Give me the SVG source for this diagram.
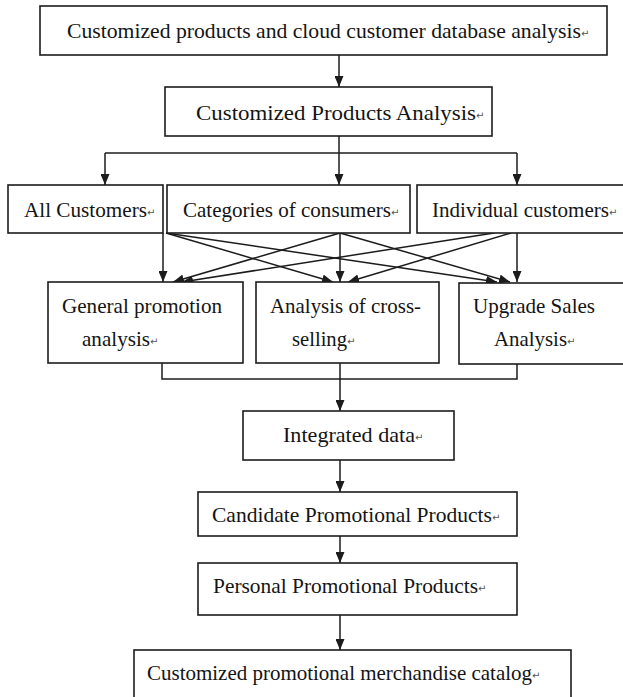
<svg xmlns="http://www.w3.org/2000/svg" width="623" height="697" viewBox="0 0 623 697">
<style>
.box{fill:#fff;stroke:#1c1c1c;stroke-width:1.6}
.t{font-family:"Liberation Serif","Times New Roman",serif;font-size:21px;fill:#141414}
.p{font-family:"DejaVu Sans",sans-serif;font-size:10px;fill:#555}
.c{fill:none;stroke:#1c1c1c;stroke-width:1.5}
</style>
<defs>
<marker id="ah" markerUnits="userSpaceOnUse" markerWidth="11" markerHeight="9" refX="11" refY="4.5" orient="auto">
<path d="M0,0 L11,4.5 L0,9 z" fill="#1c1c1c"/>
</marker>
</defs>
<rect width="623" height="697" fill="#fff"/>
<g id="connectors">
<line class="c" x1="339" y1="55" x2="339" y2="87" marker-end="url(#ah)"/>
<line class="c" x1="339" y1="136" x2="339" y2="153"/>
<line class="c" x1="105" y1="153" x2="517" y2="153"/>
<line class="c" x1="105" y1="153" x2="105" y2="185" marker-end="url(#ah)"/>
<line class="c" x1="339" y1="153" x2="339" y2="185" marker-end="url(#ah)"/>
<line class="c" x1="517" y1="153" x2="517" y2="185" marker-end="url(#ah)"/>
<line class="c" x1="163" y1="233" x2="163" y2="282" marker-end="url(#ah)"/>
<line class="c" x1="166" y1="233" x2="333" y2="282" marker-end="url(#ah)"/>
<line class="c" x1="166" y1="233" x2="497" y2="282" marker-end="url(#ah)"/>
<line class="c" x1="340" y1="233" x2="173" y2="282" marker-end="url(#ah)"/>
<line class="c" x1="340" y1="233" x2="340" y2="282" marker-end="url(#ah)"/>
<line class="c" x1="340" y1="233" x2="510" y2="282" marker-end="url(#ah)"/>
<line class="c" x1="494" y1="233" x2="182" y2="282" marker-end="url(#ah)"/>
<line class="c" x1="511" y1="233" x2="348" y2="282" marker-end="url(#ah)"/>
<line class="c" x1="517" y1="233" x2="517" y2="282" marker-end="url(#ah)"/>
<polyline class="c" points="162,363 162,379 517,379 517,364"/>
<line class="c" x1="340" y1="363" x2="340" y2="411" marker-end="url(#ah)"/>
<line class="c" x1="340" y1="460" x2="340" y2="492" marker-end="url(#ah)"/>
<line class="c" x1="340" y1="536" x2="340" y2="563" marker-end="url(#ah)"/>
<line class="c" x1="340" y1="615" x2="340" y2="650" marker-end="url(#ah)"/>
</g>
<g id="n-top">
<rect class="box" x="40" y="6" width="567" height="49"/>
<text class="t" x="67" y="38" textLength="514" lengthAdjust="spacingAndGlyphs">Customized products and cloud customer database analysis</text>
<text class="p" x="581" y="37">↵</text>
</g>
<g id="n-cpa">
<rect class="box" x="165" y="87" width="327" height="49"/>
<text class="t" x="196" y="120" textLength="280" lengthAdjust="spacingAndGlyphs">Customized Products Analysis</text>
<text class="p" x="476" y="119">↵</text>
</g>
<g id="n-all">
<rect class="box" x="8" y="185" width="155" height="48"/>
<text class="t" x="24" y="217" textLength="123" lengthAdjust="spacingAndGlyphs">All Customers</text>
<text class="p" x="147" y="216">↵</text>
</g>
<g id="n-cat">
<rect class="box" x="167" y="185" width="243" height="48"/>
<text class="t" x="183" y="217" textLength="208" lengthAdjust="spacingAndGlyphs">Categories of consumers</text>
<text class="p" x="391" y="216">↵</text>
</g>
<g id="n-ind">
<rect class="box" x="417" y="185" width="215" height="48"/>
<text class="t" x="432" y="217" textLength="177" lengthAdjust="spacingAndGlyphs">Individual customers</text>
<text class="p" x="609" y="216">↵</text>
</g>
<g id="n-gen">
<rect class="box" x="48" y="282" width="195" height="81"/>
<text class="t" x="62" y="313" textLength="160" lengthAdjust="spacingAndGlyphs">General promotion</text>
<text class="t" x="82" y="346" textLength="68" lengthAdjust="spacingAndGlyphs">analysis</text>
<text class="p" x="150" y="345">↵</text>
</g>
<g id="n-cross">
<rect class="box" x="256" y="282" width="183" height="81"/>
<text class="t" x="270" y="313" textLength="151" lengthAdjust="spacingAndGlyphs">Analysis of cross-</text>
<text class="t" x="292" y="346" textLength="55" lengthAdjust="spacingAndGlyphs">selling</text>
<text class="p" x="347" y="345">↵</text>
</g>
<g id="n-up">
<rect class="box" x="459" y="283" width="175" height="81"/>
<text class="t" x="473" y="313" textLength="122" lengthAdjust="spacingAndGlyphs">Upgrade Sales</text>
<text class="t" x="494" y="346" textLength="73" lengthAdjust="spacingAndGlyphs">Analysis</text>
<text class="p" x="567" y="345">↵</text>
</g>
<g id="n-int">
<rect class="box" x="243" y="411" width="211" height="49"/>
<text class="t" x="283" y="442" textLength="132" lengthAdjust="spacingAndGlyphs">Integrated data</text>
<text class="p" x="415" y="441">↵</text>
</g>
<g id="n-cand">
<rect class="box" x="198" y="492" width="319" height="44"/>
<text class="t" x="212" y="522" textLength="280" lengthAdjust="spacingAndGlyphs">Candidate Promotional Products</text>
<text class="p" x="492" y="521">↵</text>
</g>
<g id="n-pers">
<rect class="box" x="198" y="563" width="319" height="52"/>
<text class="t" x="213" y="593" textLength="265" lengthAdjust="spacingAndGlyphs">Personal Promotional Products</text>
<text class="p" x="478" y="592">↵</text>
</g>
<g id="n-cat2">
<rect class="box" x="134" y="650" width="437" height="60"/>
<text class="t" x="147" y="680" textLength="385" lengthAdjust="spacingAndGlyphs">Customized promotional merchandise catalog</text>
<text class="p" x="532" y="679">↵</text>
</g>
</svg>
